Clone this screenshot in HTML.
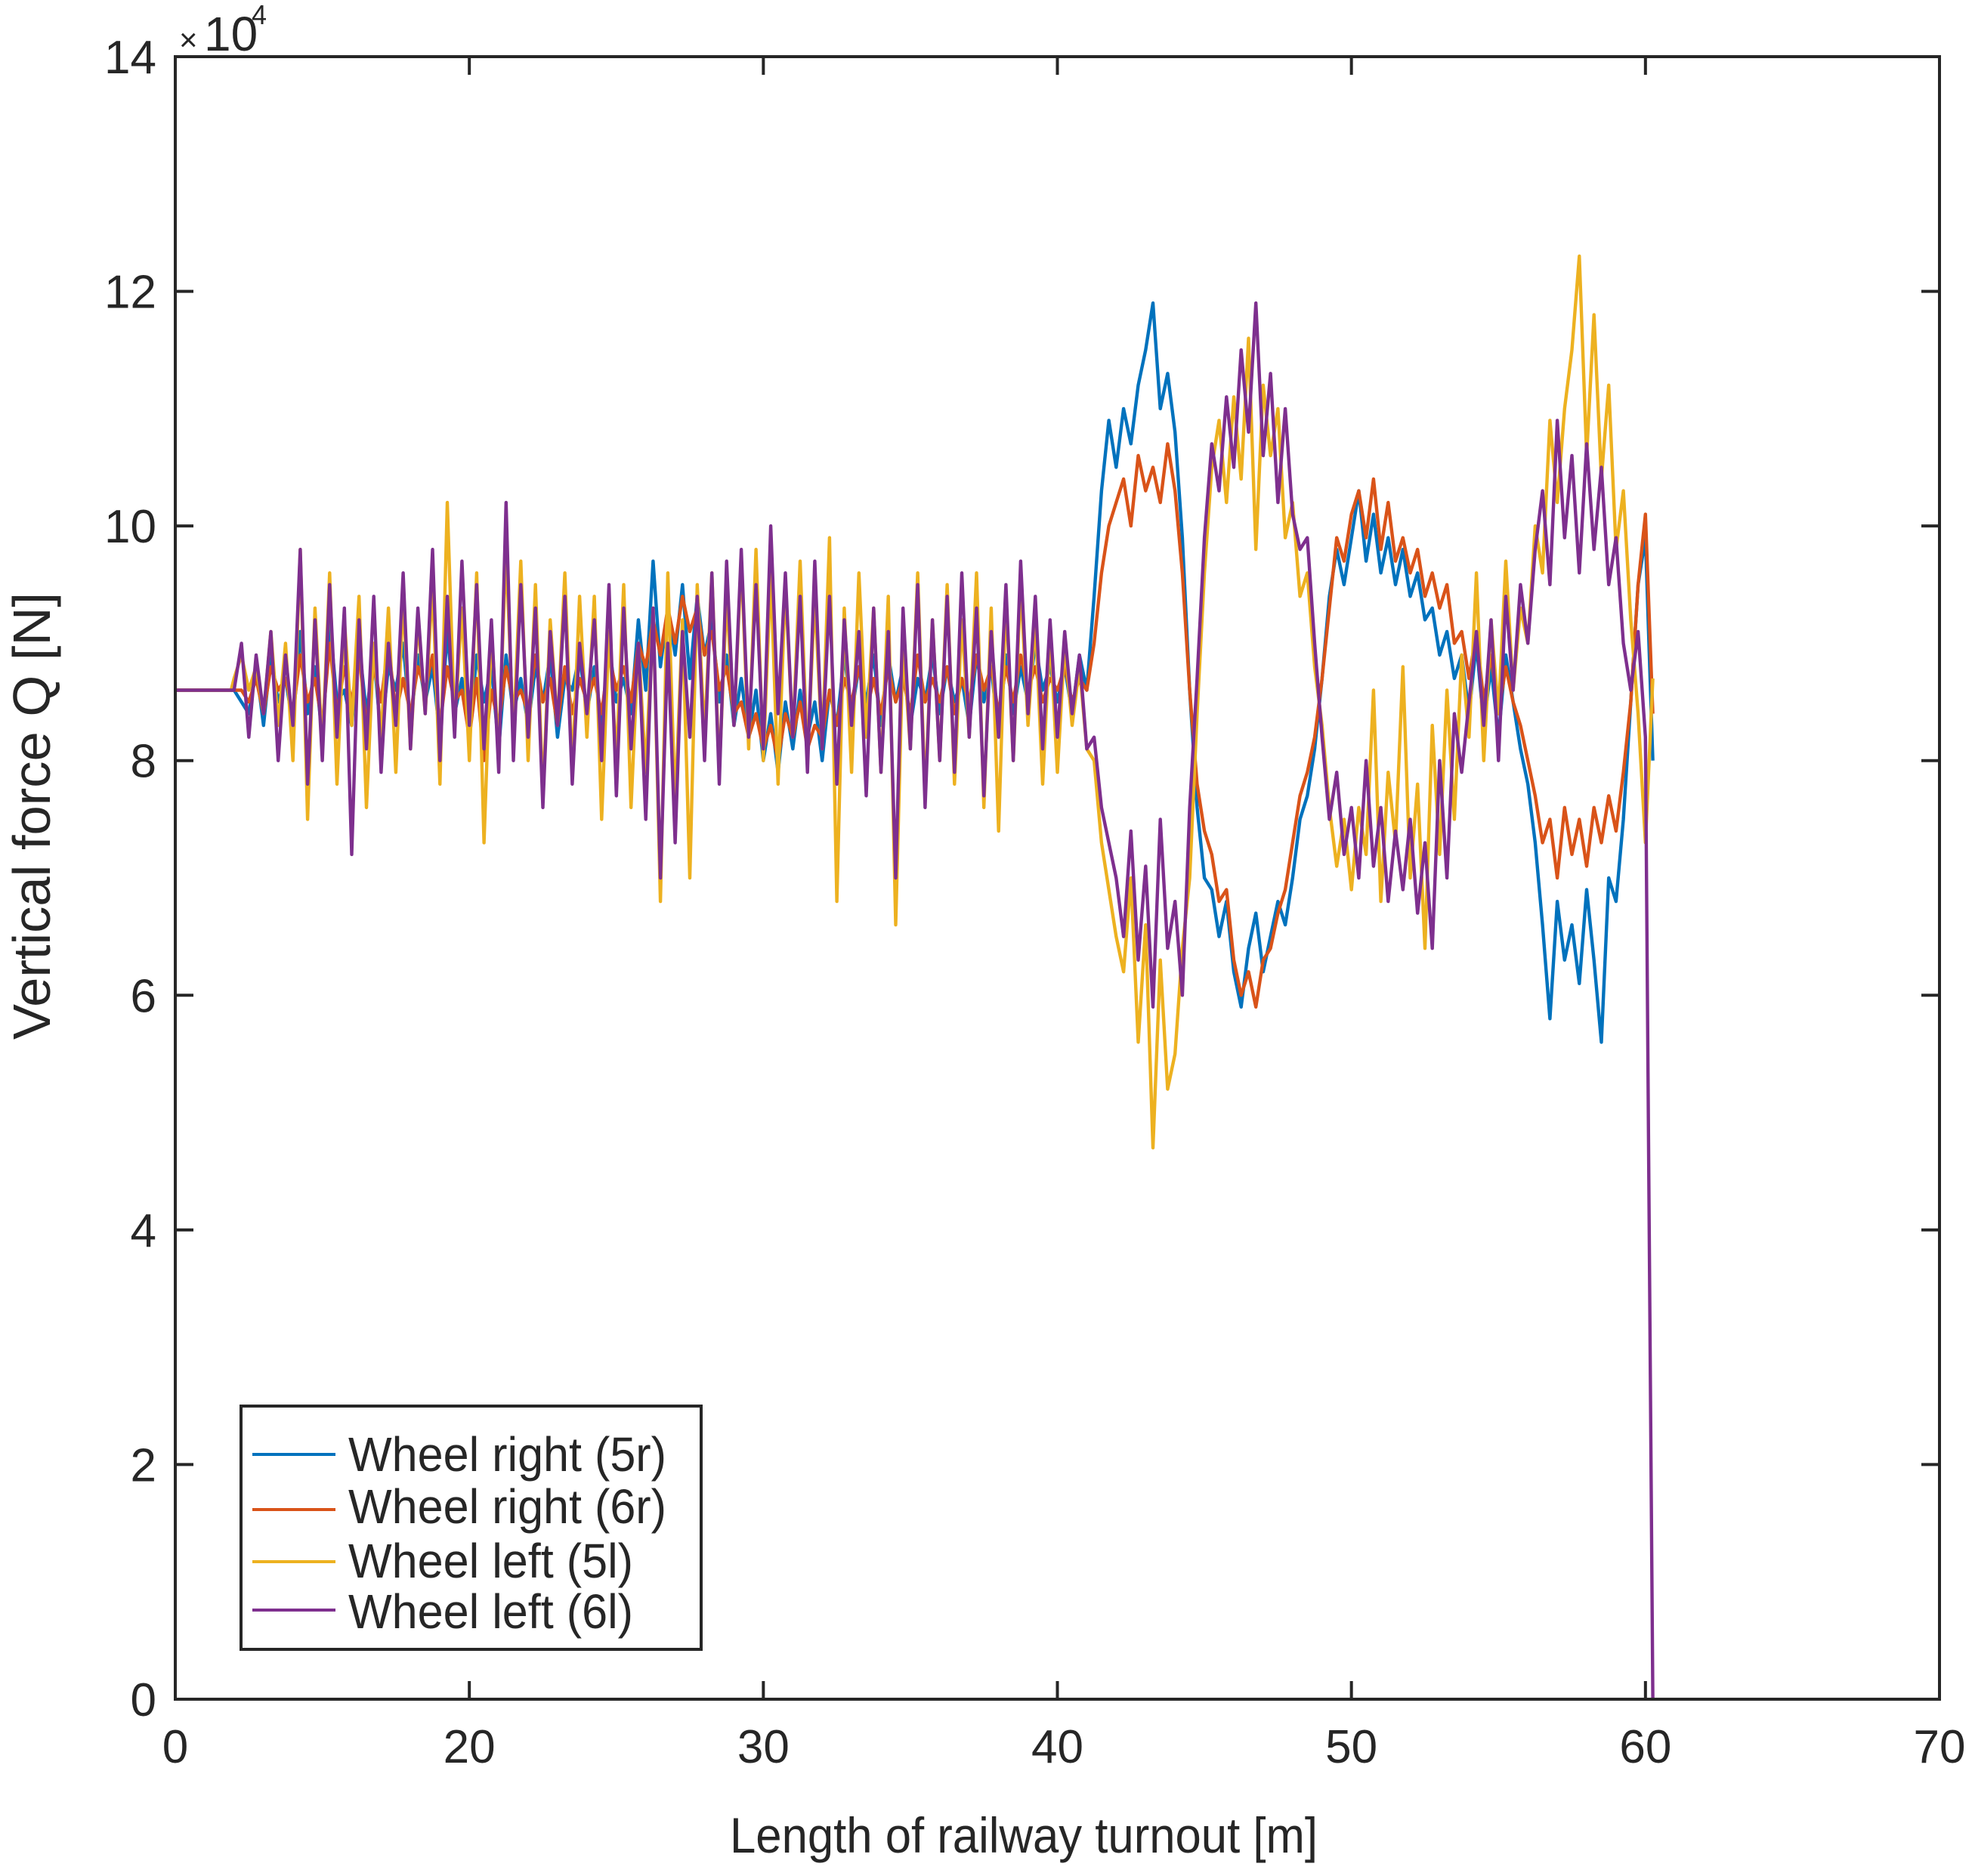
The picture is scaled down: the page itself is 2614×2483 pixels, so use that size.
<!DOCTYPE html>
<html><head><meta charset="utf-8"><style>
html,body{margin:0;padding:0;background:#fff}
svg{display:block}
text{font-family:"Liberation Sans",Arial,sans-serif;fill:#262626}
</style></head><body>
<svg id="chart" width="2614" height="2483" viewBox="0 0 2614 2483" xmlns="http://www.w3.org/2000/svg">
<rect x="0" y="0" width="2614" height="2483" fill="#fff"/>
<g id="series"></g>
<g id="axes"></g>
<text x="237" y="67" font-size="42">×</text>
<text x="270" y="67" font-size="64">10</text>
<text x="333" y="32" font-size="36">4</text>
<text x="1355" y="2452" font-size="66" text-anchor="middle" textLength="778" lengthAdjust="spacingAndGlyphs">Length of railway turnout [m]</text>
<text transform="translate(66,1080) rotate(-90)" font-size="70" text-anchor="middle" textLength="592" lengthAdjust="spacingAndGlyphs">Vertical force Q [N]</text>
<g id="legend">
<rect x="319" y="1861" width="609" height="322" fill="#fff" stroke="#262626" stroke-width="4"/>
<line x1="334" y1="1925" x2="444" y2="1925" stroke="#0072BD" stroke-width="4"/>
<text x="461" y="1947" font-size="64" fill="#000" textLength="421" lengthAdjust="spacingAndGlyphs">Wheel right (5r)</text>
<line x1="334" y1="1998" x2="444" y2="1998" stroke="#D95319" stroke-width="4"/>
<text x="461" y="2016" font-size="64" fill="#000" textLength="421" lengthAdjust="spacingAndGlyphs">Wheel right (6r)</text>
<line x1="334" y1="2067" x2="444" y2="2067" stroke="#EDB120" stroke-width="4"/>
<text x="461" y="2088" font-size="64" fill="#000" textLength="377" lengthAdjust="spacingAndGlyphs">Wheel left (5l)</text>
<line x1="334" y1="2131" x2="444" y2="2131" stroke="#7E2F8E" stroke-width="4"/>
<text x="461" y="2155" font-size="64" fill="#000" textLength="377" lengthAdjust="spacingAndGlyphs">Wheel left (6l)</text>
</g>
</svg>
<script>
const xTickValues = [10,20,30,40,50,60,70];
const xTickLabels = ["0","20","30","40","50","60","70"];
const yTickValues = [0,2,4,6,8,10,12,14];
const yTickLabels = ["0","2","4","6","8","10","12","14"];
const leadX = [10, 11.9];
const leadValue = [8.6, 8.6];
const sampleStart = 12;
const sampleStep = 0.25;
const wheel5r = [8.6,8.5,8.4,8.8,8.3,8.9,8.5,8.7, 8.3,9.1,8.4,8.8,8.2,9.2,8.5,8.6, 8.3,9.0,8.4,8.9,8.2,8.8,8.6,9.0, 8.3,8.9,8.5,8.8,8.2,9.1,8.4,8.7, 8.2,8.9,8.5,8.8,8.1,8.9,8.4,8.7, 8.3,8.8,8.5,8.9,8.2,8.7,8.6,8.9, 8.4,8.8,8.3,9.0,8.5,8.7,8.4,9.2, 8.6,9.7,8.8,9.3,8.9,9.5,8.7,9.4, 8.9,9.2,8.5,8.9,8.3,8.7,8.2,8.6, 8.0,8.4,7.9,8.5,8.1,8.6,8.2,8.5, 8.0,8.6,8.3,8.9,8.4,8.8,8.5,8.9, 8.3,8.9,8.5,8.8,8.3,8.7,8.5,8.9, 8.4,8.8,8.5,8.7,8.3,8.9,8.5,8.8, 8.2,8.9,8.4,8.8,8.5,9.0,8.6,8.8, 8.5,8.8,8.4,8.9,8.6,9.4,10.3,10.9, 10.5,11.0,10.7,11.2,11.5,11.9,11.0,11.3, 10.8,9.9,8.6,7.6,7.0,6.9,6.5,6.8, 6.2,5.9,6.4,6.7,6.2,6.5,6.8,6.6, 7.0,7.5,7.7,8.1,8.7,9.4,9.8,9.5, 9.9,10.3,9.7,10.1,9.6,9.9,9.5,9.8, 9.4,9.6,9.2,9.3,8.9,9.1,8.7,8.9, 8.4,9.0,8.3,8.8,8.2,8.9,8.5,8.1, 7.8,7.3,6.6,5.8,6.8,6.3,6.6,6.1, 6.9,6.3,5.6,7.0,6.8,7.5,8.5,9.5, 9.9,8.0];
const wheel6r = [8.6,8.6,8.5,8.7,8.4,8.8,8.6,8.7, 8.4,8.9,8.5,8.7,8.3,9.0,8.4,8.8, 8.5,8.9,8.3,8.8,8.5,9.0,8.4,8.7, 8.4,8.8,8.6,8.9,8.3,8.8,8.5,8.6, 8.2,8.7,8.0,8.6,8.3,8.8,8.5,8.6, 8.4,8.9,8.5,8.7,8.3,8.8,8.4,8.7, 8.5,8.7,8.4,8.9,8.6,8.8,8.5,9.0, 8.8,9.2,8.9,9.3,9.0,9.4,9.1,9.3, 8.9,9.1,8.6,8.8,8.4,8.5,8.2,8.4, 8.1,8.3,8.0,8.4,8.2,8.5,8.1,8.3, 8.2,8.6,8.3,8.7,8.5,8.8,8.4,8.7, 8.4,8.8,8.5,8.7,8.4,8.9,8.5,8.7, 8.5,8.8,8.4,8.7,8.5,8.9,8.6,8.8, 8.4,8.8,8.5,8.9,8.6,8.8,8.5,8.7, 8.6,8.8,8.5,8.7,8.6,9.0,9.6,10.0, 10.2,10.4,10.0,10.6,10.3,10.5,10.2,10.7, 10.3,9.6,8.6,7.8,7.4,7.2,6.8,6.9, 6.3,6.0,6.2,5.9,6.3,6.4,6.7,6.9, 7.3,7.7,7.9,8.2,8.7,9.3,9.9,9.7, 10.1,10.3,9.9,10.4,9.8,10.2,9.7,9.9, 9.6,9.8,9.4,9.6,9.3,9.5,9.0,9.1, 8.7,9.1,8.5,8.9,8.4,8.8,8.5,8.3, 8.0,7.7,7.3,7.5,7.0,7.6,7.2,7.5, 7.1,7.6,7.3,7.7,7.4,7.9,8.5,9.5, 10.1,8.4];
const wheel5l = [8.7,8.9,8.6,8.8,8.4,9.1,8.3,9.0, 8.0,9.8,7.5,9.3,8.1,9.6,7.8,9.2, 8.3,9.4,7.6,9.0,8.2,9.3,7.9,9.4, 8.1,9.2,8.4,9.5,7.8,10.2,8.3,9.3, 8.0,9.6,7.3,9.1,8.1,9.8,8.2,9.7, 8.0,9.5,7.7,9.2,8.3,9.6,7.9,9.4, 8.2,9.4,7.5,9.1,8.0,9.5,7.6,9.0, 7.9,9.3,6.8,9.6,7.6,9.2,7.0,9.5, 8.2,9.6,7.9,9.4,8.3,9.7,8.1,9.8, 8.0,9.6,7.8,9.5,8.2,9.7,8.0,9.4, 8.1,9.9,6.8,9.3,7.9,9.6,8.2,9.3, 7.9,9.4,6.6,9.0,8.1,9.6,7.7,9.2, 8.0,9.5,7.8,9.2,8.2,9.6,7.6,9.3, 7.4,9.4,8.0,9.5,8.3,9.2,7.8,9.1, 7.9,9.0,8.3,8.8,8.1,8.0,7.3,6.9, 6.5,6.2,7.0,5.6,6.6,4.7,6.3,5.2, 5.5,6.4,7.0,8.4,9.6,10.5,10.9,10.2, 11.1,10.4,11.6,9.8,11.2,10.6,11.0,9.9, 10.2,9.4,9.6,8.8,8.3,7.6,7.1,7.5, 6.9,7.6,7.2,8.6,6.8,7.9,7.3,8.8, 7.0,7.8,6.4,8.3,7.2,8.6,7.5,8.9, 8.2,9.6,8.0,9.2,8.4,9.7,8.6,9.3, 9.0,10.0,9.6,10.9,10.2,11.0,11.5,12.3, 10.6,11.8,10.4,11.2,9.8,10.3,9.2,8.4, 7.3,8.7];
const wheel6l = [8.6,9.0,8.2,8.9,8.4,9.1,8.0,8.9, 8.3,9.8,7.8,9.2,8.0,9.5,8.2,9.3, 7.2,9.2,8.1,9.4,7.9,9.0,8.3,9.6, 8.1,9.3,8.4,9.8,8.0,9.4,8.2,9.7, 8.3,9.5,8.1,9.2,7.9,10.2,8.0,9.5, 8.2,9.3,7.6,9.1,8.3,9.4,7.8,9.0, 8.4,9.2,8.0,9.5,7.7,9.3,8.1,9.0, 7.5,9.3,7.0,9.0,7.3,9.1,8.2,9.4, 8.0,9.6,7.8,9.7,8.3,9.8,8.2,9.5, 8.1,10.0,8.4,9.6,8.2,9.4,7.9,9.7, 8.1,9.4,7.8,9.2,8.3,9.1,7.7,9.3, 7.9,9.1,7.0,9.3,8.1,9.5,7.6,9.2, 8.0,9.4,7.9,9.6,8.2,9.3,7.7,9.1, 8.2,9.5,8.0,9.7,8.4,9.4,8.1,9.2, 8.2,9.1,8.4,8.9,8.1,8.2,7.6,7.3, 7.0,6.5,7.4,6.3,7.1,5.9,7.5,6.4, 6.8,6.0,7.6,8.7,9.9,10.7,10.3,11.1, 10.5,11.5,10.8,11.9,10.6,11.3,10.2,11.0, 10.1,9.8,9.9,9.0,8.2,7.5,7.9,7.2, 7.6,7.0,8.0,7.1,7.6,6.8,7.4,6.9, 7.5,6.7,7.3,6.4,8.0,7.0,8.4,7.9, 8.5,9.1,8.3,9.2,8.0,9.4,8.6,9.5, 9.0,9.8,10.3,9.5,10.9,9.9,10.6,9.6, 10.7,9.8,10.5,9.5,9.9,9.0,8.6,9.1, 8.2,0];

const NS='http://www.w3.org/2000/svg';
const L=232,R=2567,T=75,B=2249;
const xMin=10,xMax=70,yMin=0,yMax=14;
function xs(v){return L+(v-xMin)/(xMax-xMin)*(R-L);}
function ys(v){return B-(v-yMin)/(yMax-yMin)*(B-T);}
function mk(tag,attrs,parent){const e=document.createElementNS(NS,tag);for(const k in attrs)e.setAttribute(k,attrs[k]);parent.appendChild(e);return e;}

const seriesG=document.getElementById('series');
const seriesList=[[wheel5r,'#0072BD','series-wheel-right-5r'],[wheel6r,'#D95319','series-wheel-right-6r'],[wheel5l,'#EDB120','series-wheel-left-5l'],[wheel6l,'#7E2F8E','series-wheel-left-6l']];
seriesList.forEach(function(s){
  const vals=s[0];
  const pts=[];
  for(let i=0;i<leadX.length;i++)pts.push(xs(leadX[i]).toFixed(1)+','+ys(leadValue[i]).toFixed(1));
  for(let i=0;i<vals.length;i++)pts.push(xs(sampleStart+i*sampleStep).toFixed(1)+','+ys(vals[i]).toFixed(1));
  const p=mk('polyline',{points:pts.join(' '),fill:'none',stroke:s[1],'stroke-width':4.4,'stroke-linejoin':'round'},seriesG);
  
  
});

const axesG=document.getElementById('axes');
const frame=mk('rect',{x:L,y:T,width:R-L,height:B-T,fill:'none',stroke:'#262626','stroke-width':4},axesG);


const tl=24;
xTickValues.forEach(function(v,i){
  const x=xs(v);
  const t1=mk('line',{x1:x,y1:B,x2:x,y2:B-tl,stroke:'#262626','stroke-width':4},axesG);
  
  
  const t2=mk('line',{x1:x,y1:T,x2:x,y2:T+tl,stroke:'#262626','stroke-width':4},axesG);
  
  
  const lb=mk('text',{x:x,y:2333,'font-size':62,'text-anchor':'middle'},axesG);
  lb.textContent=xTickLabels[i];
  
  
});
yTickValues.forEach(function(v,i){
  const y=ys(v);
  const t1=mk('line',{x1:L,y1:y,x2:L+tl,y2:y,stroke:'#262626','stroke-width':4},axesG);
  
  
  const t2=mk('line',{x1:R,y1:y,x2:R-tl,y2:y,stroke:'#262626','stroke-width':4},axesG);
  
  
  const lb=mk('text',{x:207,y:y+22,'font-size':62,'text-anchor':'end'},axesG);
  lb.textContent=yTickLabels[i];
  
  
});
</script>
</body></html>
